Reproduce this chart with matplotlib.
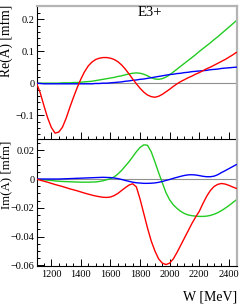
import matplotlib
matplotlib.use("Agg")
import matplotlib.pyplot as plt
from matplotlib.ticker import MultipleLocator, FuncFormatter

W = [1100, 1125, 1150, 1175, 1200, 1225, 1250, 1275, 1300, 1325, 1350, 1375, 1400, 1425,
     1450, 1475, 1500, 1525, 1550, 1575, 1600, 1625, 1650, 1675, 1700, 1725, 1750, 1775,
     1800, 1825, 1850, 1875, 1900, 1925, 1950, 1975, 2000, 2025, 2050, 2075, 2100, 2125,
     2150, 2175, 2200, 2225, 2250, 2275, 2300, 2325, 2350, 2375, 2400, 2425, 2450]

re_red = [0.000, -0.030, -0.070, -0.108, -0.138, -0.156, -0.153, -0.138, -0.110, -0.076,
          -0.044, -0.014, 0.013, 0.036, 0.054, 0.066, 0.074, 0.078, 0.080, 0.080,
          0.078, 0.074, 0.067, 0.057, 0.044, 0.029, 0.013, -0.002, -0.016, -0.028,
          -0.037, -0.042, -0.044, -0.041, -0.035, -0.027, -0.019, -0.010, -0.002, 0.005,
          0.011, 0.017, 0.022, 0.028, 0.033, 0.039, 0.045, 0.050, 0.056, 0.062,
          0.068, 0.074, 0.081, 0.088, 0.096]

re_green = [0.000, 0.000, 0.000, 0.000, 0.000, 0.000, 0.000, 0.001, 0.001, 0.001,
            0.002, 0.002, 0.003, 0.004, 0.005, 0.006, 0.008, 0.010, 0.012, 0.014,
            0.016, 0.018, 0.021, 0.023, 0.026, 0.029, 0.031, 0.032, 0.031, 0.028,
            0.023, 0.017, 0.013, 0.012, 0.014, 0.019, 0.026, 0.035, 0.044, 0.053,
            0.062, 0.071, 0.080, 0.089, 0.099, 0.108, 0.117, 0.126, 0.136, 0.145,
            0.155, 0.165, 0.175, 0.185, 0.195]

re_blue = [0.000, -0.001, -0.002, -0.002, -0.002, -0.002, -0.002, -0.002, -0.002, -0.002,
           -0.002, -0.002, -0.002, -0.002, -0.002, -0.002, -0.001, -0.001, 0.000, 0.000,
           0.001, 0.002, 0.003, 0.004, 0.006, 0.007, 0.009, 0.010, 0.012, 0.013,
           0.015, 0.017, 0.019, 0.021, 0.023, 0.025, 0.027, 0.028, 0.030, 0.031,
           0.033, 0.034, 0.036, 0.037, 0.038, 0.039, 0.040, 0.042, 0.043, 0.044,
           0.046, 0.047, 0.048, 0.049, 0.050]

im_red = [0.0, -0.0008, -0.0015, -0.0022, -0.0030, -0.0038, -0.0045, -0.0052, -0.0060, -0.0068,
          -0.0075, -0.0082, -0.0090, -0.0098, -0.0105, -0.0112, -0.0118, -0.0123, -0.0127, -0.0128,
          -0.0125, -0.0115, -0.0100, -0.0080, -0.0060, -0.0042, -0.0033, -0.0055, -0.0140, -0.0240,
          -0.0340, -0.0430, -0.0500, -0.0555, -0.0585, -0.0595, -0.0585, -0.0555, -0.0510, -0.0460,
          -0.0410, -0.0360, -0.0310, -0.0265, -0.0225, -0.0170, -0.0120, -0.0080, -0.0052, -0.0037,
          -0.0031, -0.0035, -0.0044, -0.0055, -0.0065]

im_green = [0.0, -0.0003, -0.0005, -0.0008, -0.0010, -0.0013, -0.0015, -0.0017, -0.0018, -0.0019,
            -0.0020, -0.0021, -0.0022, -0.0022, -0.0022, -0.0021, -0.0020, -0.0017, -0.0012, -0.0005,
            0.0003, 0.0015, 0.0035, 0.0060, 0.0090, 0.0120, 0.0155, 0.0190, 0.0220, 0.0238,
            0.0235, 0.0190, 0.0120, 0.0045, -0.0025, -0.0095, -0.0145, -0.0180, -0.0205, -0.0225,
            -0.0240, -0.0250, -0.0255, -0.0258, -0.0260, -0.0260, -0.0258, -0.0253, -0.0245, -0.0234,
            -0.0220, -0.0203, -0.0185, -0.0165, -0.0145]

im_blue = [0.0, 0.0, 0.0, 0.0, 0.0, 0.0, 0.0, 0.0001, 0.0002, 0.0003,
           0.0004, 0.0005, 0.0006, 0.0007, 0.0008, 0.0009, 0.0010, 0.0011, 0.0012, 0.0011,
           0.0010, 0.0007, 0.0003, -0.0003, -0.0010, -0.0016, -0.0022, -0.0026, -0.0028, -0.0030,
           -0.0030, -0.0029, -0.0027, -0.0023, -0.0017, -0.0010, -0.0003, 0.0005, 0.0012, 0.0019,
           0.0025, 0.0029, 0.0030, 0.0028, 0.0024, 0.0019, 0.0016, 0.0016, 0.0020, 0.0030,
           0.0045, 0.0058, 0.0072, 0.0086, 0.0100]

x_ticks = [1200, 1400, 1600, 1800, 2000, 2200, 2400]
re_ticks = [-0.1, 0, 0.1, 0.2]
im_ticks = [-0.06, -0.04, -0.02, 0, 0.02]

plt.rcParams['font.family'] = ['Liberation Serif', 'DejaVu Serif']

RED, GREEN, BLUE = '#ff0000', '#22cc22', '#0000ff'
GRAY = '#b4b4b4'

fig = plt.figure(figsize=(2.42, 3.04), dpi=100)
L, Wd = 36.5 / 242, (237 - 36.5) / 242
ax1 = fig.add_axes([L, 1 - 139.5 / 304, Wd, (139.5 - 5.7) / 304])
ax2 = fig.add_axes([L, 1 - 266 / 304, Wd, (266 - 139.5) / 304])


def fmt(v, pos):
    if abs(v) < 1e-12:
        return '0'
    return ('%g' % v).replace('-', '\u2212')


for ax, (r, g, b), yl, ticks, minor in (
        (ax1, (re_red, re_green, re_blue), (-0.176, 0.242), re_ticks, 0.02),
        (ax2, (im_red, im_green, im_blue), (-0.0605, 0.0275), im_ticks, 0.005)):
    ax.axhline(0, color='#909090', lw=0.8, zorder=1)
    ax.plot(W, g, color=GREEN, lw=1.0, zorder=2)
    ax.plot(W, b, color=BLUE, lw=1.0, zorder=3)
    ax.plot(W, r, color=RED, lw=1.0, zorder=4)
    ax.set_xlim(1100, 2455)
    ax.set_ylim(*yl)
    ax.set_yticks(ticks)
    ax.yaxis.set_minor_locator(MultipleLocator(minor))
    ax.set_xticks(x_ticks)
    ax.xaxis.set_minor_locator(MultipleLocator(50))
    ax.yaxis.set_major_formatter(FuncFormatter(fmt))
    ax.tick_params(which='both', direction='in', top=False, right=False,
                   labelsize=7.4, width=0.7, colors='black', pad=1.5)
    ax.tick_params(which='major', length=5)
    ax.tick_params(which='minor', length=2.5)
    for s in ('left', 'bottom'):
        ax.spines[s].set_color('black')
        ax.spines[s].set_linewidth(0.8)
    for s in ('top', 'right'):
        ax.spines[s].set_color(GRAY)
        ax.spines[s].set_linewidth(1.6)
    ax.set_facecolor('none')

ax1.tick_params(labelbottom=False)
ax2.tick_params(axis='x', pad=3)
ax2.spines['top'].set_visible(False)

fig.text(6 / 242, 1 - 5 / 304, 'Re(A) [mfm]', rotation=90, ha='center', va='top', fontsize=9.8)
fig.text(6 / 242, 1 - 140.5 / 304, 'Im(A) [mfm]', rotation=90, ha='center', va='top', fontsize=9.3)
fig.text(150 / 242, 1 - 12.5 / 304, 'E3+', ha='center', va='center', fontsize=10.5)
fig.text(237 / 242, 1 - 297 / 304, 'W [MeV]', ha='right', va='center', fontsize=10)

fig.savefig('out.png', dpi=100)
